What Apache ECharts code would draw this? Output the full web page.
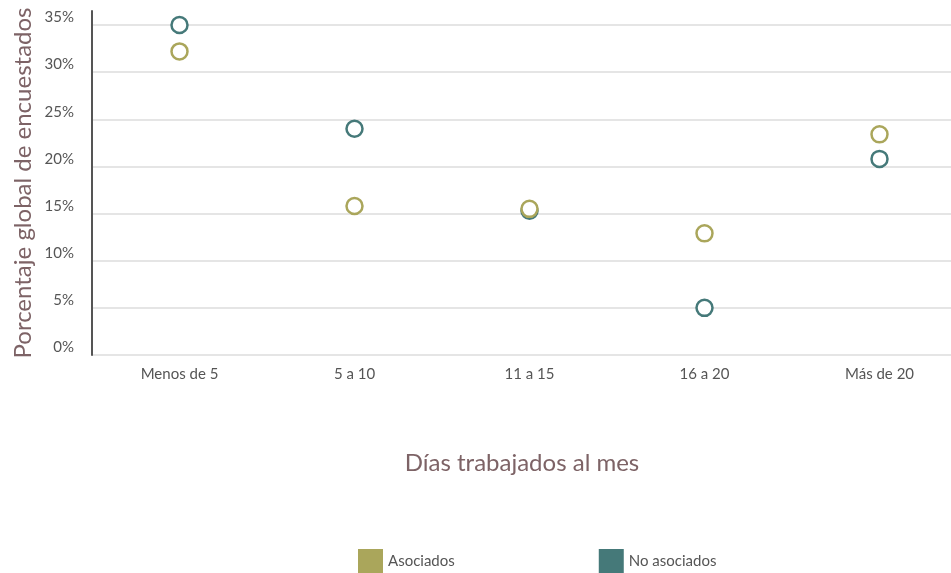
<!DOCTYPE html>
<html>
<head>
<meta charset="utf-8">
<script src="https://cdn.jsdelivr.net/npm/echarts@6/dist/echarts.min.js"></script>
<style>
html, body { margin: 0; padding: 0; background: #fff; }
#chart { width: 951px; height: 573px; }
</style>
</head>
<body>
<div id="chart"></div>
<script>
const categories = ['Menos de 5', '5 a 10', '11 a 15', '16 a 20', 'Más de 20']
const asociados = [32.2, 15.8, 15.5, 12.9, 23.4]
const noAsociados = [35.0, 24.0, 15.3, 5.0, 20.8]
const yTicks = [0, 5, 10, 15, 20, 25, 30, 35]

const font = 'Lato, "Open Sans", sans-serif'
const olive = '#aaa65b'
const teal = '#457979'

const chart = echarts.init(document.getElementById('chart'))
chart.setOption({
    animation: false,
    textStyle: { fontFamily: font },
    title: {
        text: 'Días trabajados al mes',
        left: 517,
        top: 446,
        textAlign: 'center',
        textStyle: { fontFamily: font, fontSize: 24, fontWeight: 'normal', color: '#7d6366' }
    },
    legend: {
        left: 353,
        top: 544,
        itemWidth: 25,
        itemHeight: 24,
        itemGap: 144,
        icon: 'rect',
        data: [
            { name: 'Asociados', itemStyle: { color: olive, borderWidth: 0, opacity: 1 } },
            { name: 'No asociados', itemStyle: { color: teal, borderWidth: 0, opacity: 1 } }
        ],
        textStyle: { fontFamily: font, fontSize: 15, color: '#555' }
    },
    grid: [
        { left: 92, width: 875, top: 25, bottom: 218, outerBoundsMode: 'none' },
        // only used to extend the y axis line above the top tick
        { left: 92, width: 1, top: 11, bottom: 218, outerBoundsMode: 'none' }
    ],
    xAxis: [
        {
            type: 'category',
            data: categories,
            axisLine: { show: false },
            axisTick: { show: false },
            axisLabel: { fontFamily: font, fontSize: 15, color: '#555', margin: 12 }
        },
        { gridIndex: 1, type: 'value', show: false }
    ],
    yAxis: [
        {
            type: 'value',
            min: 0,
            max: 35,
            interval: 5,
            axisLine: { show: false },
            axisTick: { show: false },
            splitLine: { lineStyle: { color: '#dcdcdc', width: 1.5 } },
            axisLabel: {
                fontFamily: font,
                fontSize: 15,
                color: '#555',
                margin: 18,
                verticalAlign: 'bottom',
                formatter: function (v) {
                    return yTicks.indexOf(v) >= 0 ? v + '%' : ''
                }
            }
        },
        {
            gridIndex: 1,
            type: 'value',
            min: 0,
            max: 1,
            axisLine: { show: true, lineStyle: { color: '#555', width: 2 } },
            axisTick: { show: false },
            axisLabel: { show: false },
            splitLine: { show: false },
            name: 'Porcentaje global de encuestados',
            nameLocation: 'middle',
            nameGap: 57,
            nameTextStyle: { fontFamily: font, fontSize: 24, color: '#7d6366' }
        }
    ],
    series: [
        {
            name: 'No asociados',
            type: 'scatter',
            data: noAsociados,
            symbol: 'circle',
            symbolSize: 16,
            z: 2,
            itemStyle: { color: '#fff', borderColor: teal, borderWidth: 2.5, opacity: 1 }
        },
        {
            name: 'Asociados',
            type: 'scatter',
            data: asociados,
            symbol: 'circle',
            symbolSize: 16,
            z: 3,
            itemStyle: { color: '#fff', borderColor: olive, borderWidth: 2.5, opacity: 1 }
        }
    ]
})
</script>
</body>
</html>
